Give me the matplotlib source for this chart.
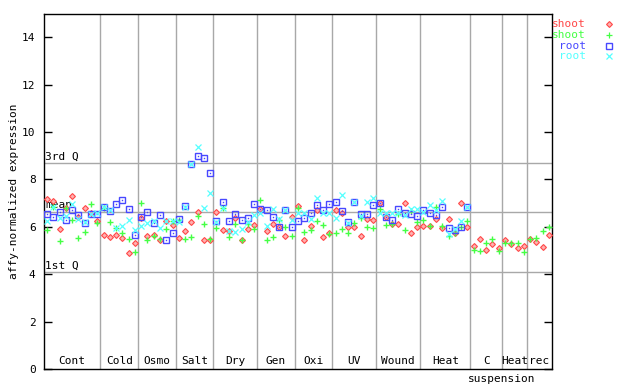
import numpy as np
import matplotlib
matplotlib.use("Agg")
import matplotlib.pyplot as plt
from matplotlib.lines import Line2D

# group names and number of samples per group
groups = ["Cont", "Cold", "Osmo", "Salt", "Dry", "Gen", "Oxi", "UV",
          "Wound", "Heat", "C", "Heat", "rec"]
group_sizes = [9, 6, 6, 6, 7, 6, 6, 7, 7, 8, 5, 4, 4]

shoot_red = [
    7.16, 7.08, 5.90, 6.78, 7.29, 6.40, 6.78, 6.60, 6.26,
    5.65, 5.56, 5.64, 5.52, 4.88, 5.31,
    6.36, 5.61, 5.65, 5.45, 6.23, 6.06,
    5.52, 5.83, 6.19, 6.61, 5.45, 5.45,
    6.61, 5.87, 5.83, 6.39, 5.45, 5.92, 6.08,
    6.77, 5.81, 6.10, 5.98, 5.60, 6.43,
    6.88, 5.43, 6.04, 6.70, 5.56, 5.72,
    6.70, 6.60, 5.98, 5.98, 5.61, 6.33, 6.27,
    6.99, 6.40, 6.10, 6.10, 6.99, 5.75, 6.00,
    6.04, 6.04, 6.32, 5.94, 6.32, 5.72, 6.99, 5.98,
    5.19, 5.47, 5.02, 5.28, 5.09,
    5.44, 5.28, 5.09, 5.19,
    5.47, 5.35, 5.13, 5.64,
]
shoot_green = [
    5.87, 6.85, 5.40, 6.80, 6.28, 5.52, 5.78, 6.96, 6.18,
    6.80, 6.19, 5.97, 5.73, 5.50, 4.94,
    6.99, 5.45, 5.61, 5.49, 5.90, 6.25,
    6.30, 5.47, 5.56, 6.45, 6.14, 5.47,
    5.94, 6.80, 5.59, 6.12, 5.45, 6.10, 5.90,
    7.12, 5.45, 5.57, 6.29, 5.98, 5.61,
    6.80, 5.80, 5.85, 6.23, 6.07, 5.70,
    5.73, 5.90, 5.73, 6.15, 6.39, 6.00, 5.94,
    6.74, 6.06, 6.14, 6.53, 5.87, 6.68, 6.19,
    6.30, 6.04, 6.83, 6.04, 5.61, 5.75, 6.00, 6.26,
    5.01, 4.98, 5.30, 5.47, 4.98,
    5.30, 5.30, 5.30, 4.92,
    5.47, 5.51, 5.84, 5.98,
]
nan = np.nan
root_blue = [
    6.53, 6.40, 6.64, 6.28, 6.70, 6.49, 6.15, 6.56, 6.56,
    6.85, 6.67, 6.95, 7.12, 6.74, 5.64,
    6.43, 6.61, 6.15, 6.49, 5.45, 5.73,
    6.35, 6.89, 8.64, 8.98, 8.89, 8.26,
    6.23, 7.04, 6.24, 6.53, 6.29, 6.36, 6.96,
    6.77, 6.70, 6.40, 5.98, 6.70, 5.98,
    6.25, 6.36, 6.57, 6.92, 6.71, 6.95,
    7.04, 6.67, 6.19, 7.04, 6.55, 6.55, 6.92,
    6.99, 6.42, 6.29, 6.74, 6.57, 6.53, 6.47,
    6.71, 6.57, 6.48, 6.83, 5.97, 5.87, 5.98, 6.83,
    nan, nan, nan, nan, nan,
    nan, nan, nan, nan,
    nan, nan, nan, nan,
]
root_cyan = [
    6.25, 6.84, 6.39, 6.46, 6.98, 6.32, 6.22, 6.56, 6.60,
    6.85, 6.70, 5.96, 6.05, 6.27, 5.85,
    6.04, 6.15, 6.25, 5.94, 6.23, 6.25,
    6.22, 6.83, 8.64, 9.36, 6.80, 7.43,
    6.19, 6.78, 5.83, 5.78, 5.92, 6.22, 6.48,
    6.57, 6.05, 6.74, 6.32, 6.70, 6.29,
    6.60, 6.57, 6.32, 7.20, 6.57, 6.57,
    6.36, 7.35, 6.18, 7.04, 6.45, 7.04, 7.20,
    6.60, 6.60, 6.60, 6.57, 6.50, 6.74, 6.74,
    6.64, 6.92, 6.70, 7.10, 5.70, 5.90, 6.26, 6.83,
    nan, nan, nan, nan, nan,
    nan, nan, nan, nan,
    nan, nan, nan, nan,
]

q3, mean, q1 = 8.68, 6.63, 4.08

RED, GREEN, BLUE, CYAN = "#ff4848", "#44ff44", "#4848ff", "#55ffff"
GRID = "#a8a8a8"
FONT = "DejaVu Sans Mono"

plt.rcParams["font.family"] = FONT

fig = plt.figure(figsize=(6.4, 3.84), dpi=100)
ax = fig.add_axes([44 / 640, 15 / 384, 508 / 640, 355.4 / 384])

n = sum(group_sizes)
x = np.arange(n) + 0.5
bounds = np.cumsum(group_sizes)

for b in bounds[:-1]:
    ax.axvline(b, color=GRID, lw=1, zorder=1)
for v in (q3, mean, q1):
    ax.axhline(v, color=GRID, lw=1, zorder=1)

ax.text(0.15, q3 + 0.08, "3rd Q", fontsize=8, va="bottom", ha="left", zorder=2)
ax.text(0.15, mean + 0.08, "mean", fontsize=8, va="bottom", ha="left", zorder=2)
ax.text(0.15, q1 + 0.08, "1st Q", fontsize=8, va="bottom", ha="left", zorder=2)

# series
ax.plot(x, shoot_red, ls="none", marker="D", ms=3, mfc="#ffb0b0",
        mec=RED, mew=0.8, zorder=3)
ax.plot(x, shoot_green, ls="none", marker="+", ms=5, mec=GREEN, mew=1,
        zorder=3)
ax.plot(x, root_blue, ls="none", marker="s", ms=4, mfc="none",
        mec=BLUE, mew=1, zorder=4)
ax.plot(x, root_blue, ls="none", marker="s", ms=1, mfc=BLUE,
        mec=BLUE, mew=0, zorder=4)
ax.plot(x, root_cyan, ls="none", marker="x", ms=4, mec=CYAN, mew=0.9,
        zorder=4)

# group labels
starts = np.concatenate([[0], bounds[:-1]])
for name, s, e in zip(groups, starts, bounds):
    ax.text((s + e) / 2, 0.12, name, fontsize=8, ha="center", va="bottom")
ax.text(73.0, -0.2, "suspension", fontsize=8, ha="center", va="top",
        clip_on=False)

ax.set_xlim(0, n)
ax.set_ylim(0, 15)
ax.set_xticks([])
ax.set_yticks(np.arange(0, 15, 2))
ax.tick_params(axis="y", direction="in", length=6, width=1, labelsize=8,
               left=True, right=True, pad=6)
for sp in ax.spines.values():
    sp.set_color("black")
    sp.set_linewidth(1)
ax.set_ylabel("affy-normalized expression", fontsize=8, labelpad=2)

# legend outside on the right
legend_rows = [("shoot", RED, "D"), ("shoot", GREEN, "+"),
               ("root", BLUE, "s"), ("root", CYAN, "x")]
for k, (label, col, mk) in enumerate(legend_rows):
    yy = 1 - (24 + 10.8 * k) / 384
    fig.text(586 / 640, yy, label, color=col, fontsize=8, ha="right",
             va="center")
    if mk == "D":
        art = Line2D([609 / 640], [yy], marker="D", ms=3, mfc="#ffb0b0",
                     mec=col, mew=0.8, ls="none", transform=fig.transFigure)
    elif mk == "s":
        art = Line2D([609 / 640], [yy], marker="s", ms=4, mfc="none",
                     mec=col, mew=1, ls="none", transform=fig.transFigure)
    else:
        art = Line2D([609 / 640], [yy], marker=mk, ms=4.5, mec=col, mew=0.9,
                     ls="none", transform=fig.transFigure)
    fig.add_artist(art)

fig.savefig("out.png", dpi=100)
